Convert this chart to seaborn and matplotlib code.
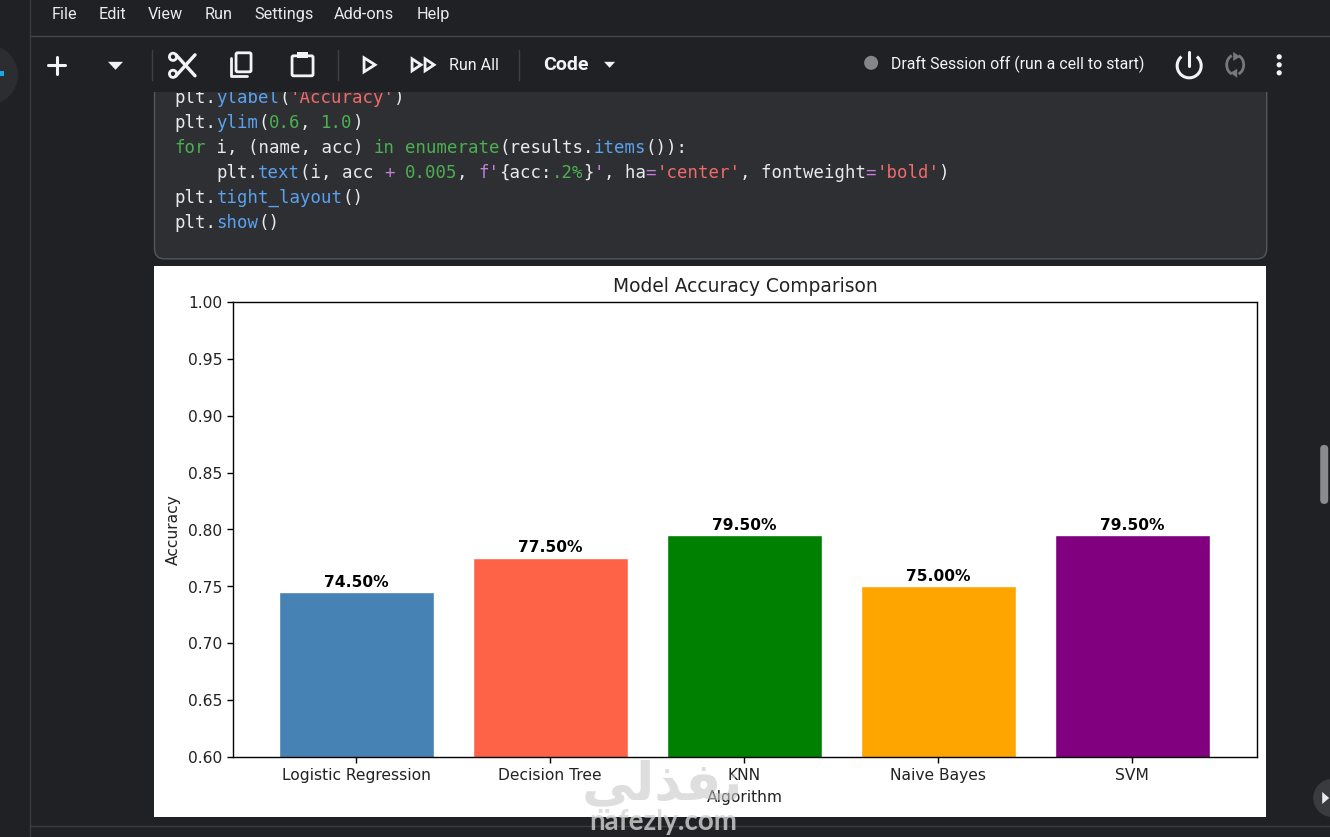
import matplotlib
matplotlib.use("Agg")
import matplotlib.pyplot as plt
import pandas as pd
import seaborn as sns
from matplotlib.patches import Circle, FancyBboxPatch, Polygon, Rectangle, Arc

# Chart values
algorithms = ["Logistic Regression", "Decision Tree", "KNN", "Naive Bayes", "SVM"]
accuracy = [0.745, 0.775, 0.795, 0.75, 0.795]
bar_colors = ["steelblue", "tomato", "green", "orange", "purple"]
y_ticks = [0.60, 0.65, 0.70, 0.75, 0.80, 0.85, 0.90, 0.95, 1.00]

# Notebook text around the chart
menu_items = [("File", 52), ("Edit", 99), ("View", 148), ("Run", 205),
              ("Settings", 254), ("Add-ons", 334), ("Help", 417)]
WHITE, BLUE, GREEN, RED, PINK = "#e8eaed", "#5aa2f0", "#4caf50", "#f06a6a", "#c77ddb"
code_lines = [
    (98, 0, [("plt.", WHITE), ("ylabel", BLUE), ("(", WHITE), ("'Accuracy'", RED), (")", WHITE)]),
    (123, 0, [("plt.", WHITE), ("ylim", BLUE), ("(", WHITE), ("0.6", GREEN), (", ", WHITE), ("1.0", GREEN), (")", WHITE)]),
    (148, 0, [("for", GREEN), (" i, (name, acc) ", WHITE), ("in", GREEN), (" ", WHITE), ("enumerate", GREEN),
              ("(results.", WHITE), ("items", BLUE), ("()):", WHITE)]),
    (173, 4, [("plt.", WHITE), ("text", BLUE), ("(i, acc ", WHITE), ("+", PINK), (" ", WHITE), ("0.005", GREEN),
              (", ", WHITE), ("f'", PINK), ("{acc:", WHITE), (".2%", GREEN), ("}", WHITE), ("'", PINK), (", ha", WHITE),
              ("=", PINK), ("'center'", RED), (", fontweight", WHITE), ("=", PINK), ("'bold'", RED), (")", WHITE)]),
    (198, 0, [("plt.", WHITE), ("tight_layout", BLUE), ("()", WHITE)]),
    (223, 0, [("plt.", WHITE), ("show", BLUE), ("()", WHITE)]),
]

W, H = 1330, 837
sns.set_theme(style="white")
plt.rcParams["font.family"] = ["DejaVu Sans"]
fig = plt.figure(figsize=((W + 0.2) / 100, (H + 0.2) / 100), dpi=100, facecolor="#202124")

# Page background, behind the chart
bg = fig.add_axes([0, 0, 1, 1], zorder=0)
bg.set_xlim(0, W)
bg.set_ylim(H, 0)
bg.axis("off")
bg.add_patch(Rectangle((154, 266), 1112, 551, fc="white", ec="none"))
bg.add_patch(FancyBboxPatch((154.5, 60), 1112, 199, boxstyle="round,pad=0,rounding_size=10",
                            fc="#2e2f33", ec="#55565b", lw=1))
for y, indent, tokens in code_lines:
    col = indent
    for txt, color in tokens:
        bg.text(174.5 + col * 10.47, y, txt, color=color, family="DejaVu Sans Mono", fontsize=12.5,
                va="center", ha="left")
        col += len(txt)

# The chart
ax = fig.add_axes([233 / W, 1 - 757 / H, (1257 - 233) / W, (757 - 302) / H], zorder=1)
df = pd.DataFrame({"Algorithm": algorithms, "Accuracy": accuracy})
sns.barplot(data=df, x="Algorithm", y="Accuracy", hue="Algorithm", palette=bar_colors, saturation=1,
            width=0.8, legend=False, ax=ax)
ax.set_xlim(-0.635, 4.644)
ax.set_ylim(0.6, 1.0)
ax.set_yticks(y_ticks)
ax.set_yticklabels([f"{t:.2f}" for t in y_ticks])
ax.tick_params(axis="both", labelsize=11.2, length=4.2, width=1, left=True, bottom=True, color="black", labelcolor="#222222")
for s in ax.spines.values():
    s.set_color("black")
    s.set_linewidth(1)
ax.set_title("Model Accuracy Comparison", fontsize=13.4, color="#222222", pad=7)
ax.set_xlabel("Algorithm", fontsize=11.2, color="#222222", labelpad=5)
ax.set_ylabel("Accuracy", fontsize=11.2, color="#222222", labelpad=5)
for i, acc in enumerate(accuracy):
    ax.text(i, acc + 0.005, f"{acc:.2%}", ha="center", fontweight="bold", fontsize=11.2, color="black")

# Notebook toolbar, icons and watermark, over everything
ui = fig.add_axes([0, 0, 1, 1], zorder=2)
ui.set_xlim(0, W)
ui.set_ylim(H, 0)
ui.axis("off")
ui.patch.set_alpha(0)
ui.add_patch(Rectangle((0, 0), W, 92, fc="#202124", ec="none"))
ui.add_patch(Rectangle((0, 817), W, 20, fc="#202124", ec="none"))
ui.plot([30, W], [36.5, 36.5], color="#44454a", lw=1)
ui.plot([30, 30], [0, H], color="#3a3b3f", lw=1)
ui.plot([30, W], [826, 826], color="#3a3b3f", lw=1)
ui.add_patch(Circle((-12, 75), 30, fc="#2c2d31", ec="none"))
ui.add_patch(Rectangle((0, 71), 4, 5, fc="#1ea7e8", ec="none"))
ui.add_patch(FancyBboxPatch((1320, 445), 8, 59, boxstyle="round,pad=0,rounding_size=4", fc="#8a8b8f", ec="none"))
ui.add_patch(Circle((1332, 798), 19, fc="#3a3b3f", ec="none"))
ui.add_patch(Polygon([[1322, 792], [1322, 804], [1329, 798]], fc="#e8eaed", ec="none"))

for label, x in menu_items:
    ui.text(x, 14, label, color="#e8eaed", fontsize=11.7, family="Roboto", va="center", ha="left")

# toolbar separators
for x in [151, 337, 518]:
    ui.plot([x + 0.5, x + 0.5], [50, 80], color="#3f4045", lw=1)

ic = "#f1f3f4"
ui.plot([48, 65], [65, 65], color=ic, lw=2.2)
ui.plot([56.5, 56.5], [57, 74], color=ic, lw=2.2)
ui.add_patch(Polygon([[108, 62], [123, 62], [115.5, 70]], fc=ic, ec="none"))
# scissors
ui.plot([176, 195], [55, 76], color=ic, lw=2.4)
ui.plot([195, 176], [55, 76], color=ic, lw=2.4)
ui.add_patch(Circle((173, 57), 3.6, fc="#202124", ec=ic, lw=2))
ui.add_patch(Circle((173, 74), 3.6, fc="#202124", ec=ic, lw=2))
# copy
ui.add_patch(FancyBboxPatch((236, 53), 15, 19, boxstyle="round,pad=0,rounding_size=1.5", fc="#202124", ec=ic, lw=2))
ui.plot([231, 231, 247], [58, 76, 76], color=ic, lw=2)
# paste
ui.add_patch(FancyBboxPatch((292, 56), 21, 20, boxstyle="round,pad=0,rounding_size=1.5", fc="#202124", ec=ic, lw=2))
ui.add_patch(Rectangle((297, 52), 11, 6, fc=ic, ec="none"))
# run and run all
ui.add_patch(Polygon([[364, 58], [364, 72], [375, 65]], fc="#202124", ec=ic, lw=2))
ui.add_patch(Polygon([[412, 59], [412, 71], [421, 65]], fc="#202124", ec=ic, lw=2))
ui.add_patch(Polygon([[425, 59], [425, 71], [434, 65]], fc="#202124", ec=ic, lw=2))
ui.text(449, 65, "Run All", color=ic, fontsize=11.5, family="Roboto", va="center", ha="left")
ui.text(543, 65, "Code", color=ic, fontsize=14, family="Roboto", fontweight="bold", va="center", ha="left")
ui.add_patch(Polygon([[604, 62], [615, 62], [609.5, 68]], fc=ic, ec="none"))
# session status
ui.add_patch(Circle((871, 63), 7, fc="#85868a", ec="none"))
ui.text(891, 64, "Draft Session off (run a cell to start)", color=ic, fontsize=11.4, family="Roboto",
        va="center", ha="left")
# power, refresh, more
ui.add_patch(Arc((1189, 66), 24, 24, theta1=-50, theta2=230, ec=ic, lw=2.2))
ui.plot([1189, 1189], [52, 66], color=ic, lw=2.2)
ui.add_patch(Arc((1235, 65), 17, 20, theta1=110, theta2=250, ec="#77787c", lw=2))
ui.add_patch(Arc((1235, 65), 17, 20, theta1=-70, theta2=70, ec="#77787c", lw=2))
ui.add_patch(Polygon([[1233, 52], [1240, 57], [1233, 61]], fc="#77787c", ec="none"))
ui.add_patch(Polygon([[1237, 69], [1230, 73], [1237, 78]], fc="#77787c", ec="none"))
for y in [57, 65, 73]:
    ui.add_patch(Circle((1279, y), 2.6, fc=ic, ec="none"))

# watermark
ui.text(662, 785, "\uFEF2\uFEDF\uFEAC\uFED4\uFEE7", color="#c8c8c8", alpha=0.6, fontsize=38, fontweight="bold",
        family="DejaVu Sans", ha="center", va="center")
ui.text(663, 822, "nafezly.com", color="#d5d5d5", alpha=0.8, fontsize=20, fontweight="bold",
        family="Lato", ha="center", va="center")

fig.savefig("out.png", dpi=100, facecolor=fig.get_facecolor())
